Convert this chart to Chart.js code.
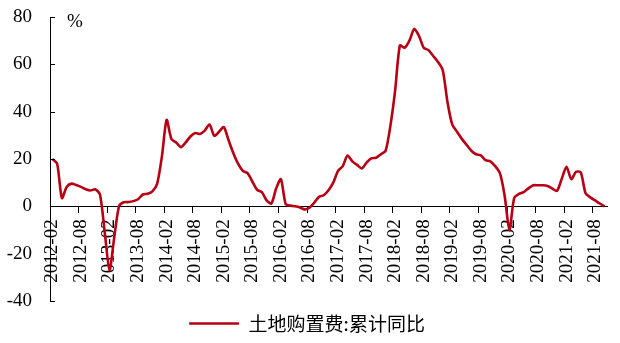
<!DOCTYPE html>
<html>
<head>
<meta charset="utf-8">
<script src="https://cdn.jsdelivr.net/npm/chart.js@4/dist/chart.umd.min.js"></script>
<style>
  html, body { margin: 0; padding: 0; background: #fff; }
  #wrap { width: 620px; height: 343px; position: relative; }
</style>
</head>
<body>
<div id="wrap"><canvas id="chart"></canvas></div>
<script>
// 土地购置费 累计同比 (%), monthly, 2012-02 .. 2021-10
var startYear = 2012, startMonth = 2, monthCount = 117;
var v2012 = [20, 18, 3.5, 8.2, 9.6, 9, 8.2, 7.2, 6.7, 7.2, 5];            // Feb-Dec
var v2013 = [-11, -27, -13, 0, 1.7, 1.8, 2.2, 3, 5, 5.3, 6.3, 9.5];
var v2014 = [21, 36.5, 28.5, 27, 25, 27, 29.5, 31, 30.6, 32, 34.6, 29.8];
var v2015 = [31.5, 33.5, 28, 22.5, 18, 15, 14, 10.5, 7, 6, 2.5, 1.2];
var v2016 = [7.5, 11.5, 1, 0.3, 0, -0.5, -1.3, -0.6, 1.5, 4, 4.7, 6.8];
var v2017 = [10, 15, 17, 21.5, 19, 17.5, 16, 18.5, 20.3, 20.5, 22, 23.5];
var v2018 = [34, 49, 68, 67, 70, 75, 72, 67, 66, 63.5, 61, 57.5];
var v2019 = [44, 34.5, 31.5, 28.5, 26, 23.5, 22, 21.5, 19.5, 19, 17, 14];
var v2020 = [4.5, -10, 3.5, 5.3, 6, 7.6, 8.9, 8.9, 8.9, 8.6, 7.5, 6.5];
var v2021 = [11.7, 16.7, 11.5, 14.6, 14.3, 5.5, 3.8, 2.5, 1.2, 0];       // Jan-Oct

var yTicks = [-40, -20, 0, 20, 40, 60, 80];
var seriesName = '土地购置费:累计同比';
var lineColor = '#B80014';

var values = [].concat(v2012, v2013, v2014, v2015, v2016, v2017, v2018, v2019, v2020, v2021);

var months = [];
for (var i = 0; i < monthCount; i++) {
  var n = startMonth - 1 + i;
  var yy = startYear + Math.floor(n / 12);
  var mm = (n % 12) + 1;
  months.push(yy + '-' + (mm < 10 ? '0' + mm : mm));
}

var serif = '"Liberation Serif", "Times New Roman", serif';

// small inward ticks on the y axis and the % unit mark
var axisExtras = {
  id: 'axisExtras',
  afterDraw: function(chart) {
    var ctx = chart.ctx, area = chart.chartArea, y = chart.scales.y;
    ctx.save();
    ctx.strokeStyle = '#000';
    ctx.lineWidth = 1;
    y.ticks.forEach(function(t) {
      var py = Math.round(y.getPixelForValue(t.value)) + 0.5;
      ctx.beginPath();
      ctx.moveTo(area.left, py);
      ctx.lineTo(area.left + 5, py);
      ctx.stroke();
    });
    ctx.fillStyle = '#000';
    ctx.font = '19px ' + serif;
    ctx.textAlign = 'center';
    ctx.textBaseline = 'middle';
    ctx.fillText('%', area.left + 25, y.getPixelForValue(yTicks[yTicks.length - 1]) + 5);
    ctx.restore();
  }
};

new Chart(document.getElementById('chart'), {
  type: 'line',
  data: {
    labels: months,
    datasets: [{
      label: seriesName,
      data: values,
      borderColor: lineColor,
      backgroundColor: lineColor,
      borderWidth: 2.6,
      pointRadius: 0,
      tension: 0.25,
      fill: false
    }]
  },
  options: {
    responsive: true,
    maintainAspectRatio: false,
    animation: false,
    layout: { padding: { top: 17, left: 7, right: 13, bottom: 0 } },
    scales: {
      x: {
        type: 'category',
        offset: true,
        position: { y: 0 },
        border: { display: true, color: '#000', width: 1 },
        grid: {
          offset: true,
          drawOnChartArea: false,
          drawTicks: true,
          tickLength: 6,
          tickColor: function(c) { return c.index % 6 === 0 ? '#000' : 'rgba(0,0,0,0)'; }
        },
        ticks: {
          autoSkip: false,
          minRotation: 90,
          maxRotation: 90,
          padding: 7,
          color: '#000',
          font: { family: serif, size: 19 },
          callback: function(v, i) { return i % 6 === 0 ? months[i] : ''; }
        },
        // the rotated labels should not push the plot edges inward
        afterFit: function(s) { s.paddingLeft = 0; s.paddingRight = 0; }
      },
      y: {
        min: yTicks[0],
        max: yTicks[yTicks.length - 1],
        border: { display: true, color: '#000', width: 1 },
        grid: { drawOnChartArea: false, drawTicks: false },
        ticks: {
          stepSize: 20,
          padding: 18,
          color: '#000',
          font: { family: serif, size: 19 }
        },
        afterFit: function(s) { s.width = 43; s.paddingTop = 0; s.paddingBottom = 0; }
      }
    },
    plugins: {
      legend: {
        position: 'bottom',
        labels: {
          usePointStyle: true,
          pointStyle: 'line',
          pointStyleWidth: 50,
          boxHeight: 19,
          padding: 13,
          color: '#000',
          font: { family: '"Noto Sans CJK SC", sans-serif', size: 19 }
        }
      },
      tooltip: { enabled: false }
    }
  },
  plugins: [axisExtras]
});
</script>
</body>
</html>
